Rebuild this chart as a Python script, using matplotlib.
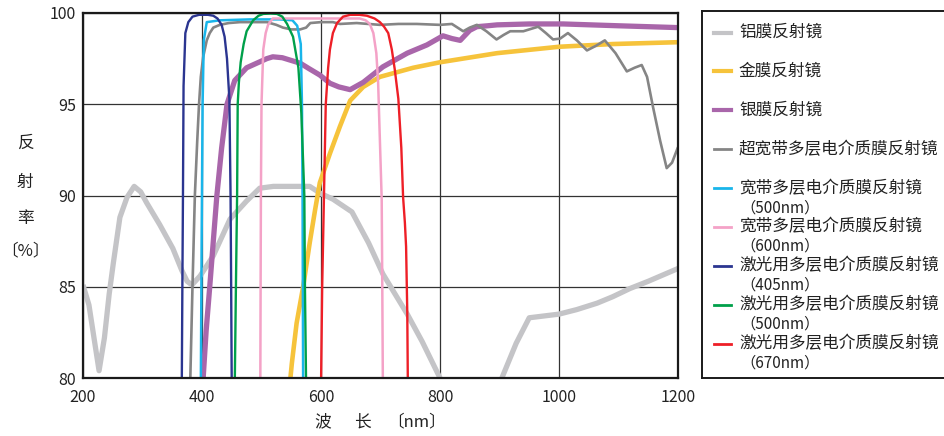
import matplotlib
matplotlib.use("Agg")
import matplotlib.pyplot as plt
from matplotlib.lines import Line2D

plt.rcParams["font.family"] = ["Noto Sans CJK SC", "DejaVu Sans"]

W, H = 945, 436

# ---- data (wavelength nm, reflectance %) ----
al_x = [200, 210, 218, 227, 236, 244, 251, 262, 274, 286, 297, 307, 329, 351, 366, 375, 383,
        397, 419, 447, 475, 497, 520, 550, 581, 600, 620, 652, 680, 704, 745, 770, 800, 830,
        870, 904, 928, 950, 975, 1000, 1030, 1064, 1090, 1119, 1150, 1175, 1200]
al_y = [85.1, 84.0, 82.3, 80.4, 82.2, 84.6, 86.3, 88.8, 89.9, 90.5, 90.2, 89.6, 88.4, 87.1,
        85.9, 85.3, 85.1, 85.6, 86.7, 88.7, 89.7, 90.4, 90.5, 90.5, 90.5, 90.1, 89.8, 89.1,
        87.4, 85.7, 83.5, 82.0, 80.0, 78.5, 78.2, 80.0, 81.9, 83.3, 83.4, 83.5, 83.75, 84.1,
        84.45, 84.9, 85.3, 85.65, 86.0]

au_x = [548, 551, 559, 570, 581, 590, 598, 615, 632, 649, 671, 699, 755, 800, 896, 1000, 1091, 1200]
au_y = [79.8, 80.8, 83.0, 85.0, 87.4, 89.2, 90.7, 92.3, 93.8, 95.2, 95.95, 96.5, 97.0, 97.3,
        97.8, 98.15, 98.3, 98.4]

ag_x = [401, 407, 413, 419, 425, 433, 442, 455, 475, 509, 519, 535, 550, 565, 580, 598, 615,
        630, 649, 671, 704, 745, 778, 805, 820, 834, 850, 862, 880, 896, 950, 1007, 1100, 1200]
ag_y = [79.5, 82.6, 85.0, 87.5, 90.0, 92.6, 95.0, 96.3, 97.0, 97.5, 97.6, 97.55, 97.4, 97.25,
        96.95, 96.6, 96.15, 95.95, 95.8, 96.2, 97.05, 97.8, 98.25, 98.75, 98.6, 98.5, 99.05,
        99.25, 99.3, 99.35, 99.4, 99.4, 99.3, 99.2]

uwb_x = [380, 384, 388, 392, 395, 398, 402, 408, 413, 419, 430, 445, 464, 490, 509, 525, 536,
         550, 565, 575, 582, 600, 620, 632, 660, 699, 730, 761, 800, 820, 839, 850, 862, 878,
         895, 907, 918, 940, 965, 978, 990, 1002, 1015, 1030, 1047, 1062, 1077, 1095, 1114,
         1127, 1139, 1148, 1158, 1170, 1181, 1190, 1200]
uwb_y = [79.5, 85.0, 90.0, 93.0, 95.0, 96.5, 97.6, 98.5, 98.9, 99.2, 99.35, 99.45, 99.5, 99.5,
         99.5, 99.35, 99.2, 99.1, 99.1, 99.2, 99.45, 99.5, 99.5, 99.4, 99.45, 99.35, 99.4, 99.4,
         99.35, 99.4, 99.0, 99.2, 99.35, 99.0, 98.55, 98.8, 99.0, 99.0, 99.25, 98.9, 98.55,
         98.6, 98.9, 98.5, 97.95, 98.2, 98.5, 97.8, 96.8, 97.0, 97.15, 96.5, 94.85, 93.0,
         91.5, 91.8, 92.65]

bb500_x = [398, 399.5, 401, 403, 408, 430, 480, 530, 552, 560, 566, 568, 569, 570]
bb500_y = [79.5, 88.0, 95.0, 98.5, 99.5, 99.6, 99.65, 99.65, 99.6, 99.3, 98.3, 95.0, 90.0, 79.5]

bb600_x = [498, 498.5, 499, 500, 503, 507, 511, 519, 540, 600, 650, 665, 675, 682, 688, 693,
           696, 699, 702, 703, 704]
bb600_y = [79.5, 85.0, 90.0, 95.0, 98.0, 98.9, 99.35, 99.7, 99.7, 99.7, 99.7, 99.7, 99.6,
           99.4, 98.9, 97.8, 96.2, 93.0, 89.8, 85.0, 79.5]

ls405_x = [366, 367, 368, 369, 372, 377, 384, 395, 410, 419, 426, 433, 438, 442, 446, 448, 449, 450]
ls405_y = [79.5, 85.0, 90.0, 96.0, 98.9, 99.5, 99.8, 99.9, 99.9, 99.85, 99.7, 99.35, 98.7,
           97.5, 95.3, 90.0, 85.0, 79.5]

ls500_x = [455, 457, 459, 460, 462, 465, 470, 475, 486, 495, 503, 515, 526, 535, 543, 553, 562,
           567, 570, 572, 573, 575]
ls500_y = [79.5, 85.0, 90.0, 95.0, 96.2, 97.3, 98.3, 99.0, 99.6, 99.85, 99.95, 99.97, 99.95,
           99.8, 99.4, 98.7, 97.0, 94.5, 91.8, 90.0, 85.0, 79.5]

ls670_x = [600, 602, 605, 608, 612, 615, 620, 627, 637, 649, 665, 677, 690, 699, 706, 713, 719,
           724, 730, 735, 738, 741, 743, 745, 746]
ls670_y = [79.5, 85.0, 90.0, 95.0, 97.0, 98.0, 98.9, 99.45, 99.8, 99.9, 99.9, 99.85, 99.7,
           99.5, 99.25, 98.9, 98.0, 96.9, 95.3, 92.6, 89.9, 88.5, 87.2, 83.6, 79.5]

x_ticks = [200, 400, 600, 800, 1000, 1200]
y_ticks = [80, 85, 90, 95, 100]

labels = ["铝膜反射镜", "金膜反射镜", "银膜反射镜", "超宽带多层电介质膜反射镜",
          "宽带多层电介质膜反射镜", "宽带多层电介质膜反射镜",
          "激光用多层电介质膜反射镜", "激光用多层电介质膜反射镜", "激光用多层电介质膜反射镜"]
sublabels = [None, None, None, None, "（500nm）", "（600nm）", "（405nm）", "（500nm）", "（670nm）"]

series = [
    (al_x, al_y, "#c4c4c7", 3.8),
    (au_x, au_y, "#f6c33b", 3.3),
    (ag_x, ag_y, "#a966aa", 3.8),
    (uwb_x, uwb_y, "#858585", 1.9),
    (bb500_x, bb500_y, "#19b5ea", 1.8),
    (bb600_x, bb600_y, "#f4a2c7", 1.8),
    (ls405_x, ls405_y, "#2b3590", 1.7),
    (ls500_x, ls500_y, "#00a04a", 1.7),
    (ls670_x, ls670_y, "#ee1f27", 1.7),
]

fig = plt.figure(figsize=(W / 100, H / 100), dpi=100)
ax = fig.add_axes([83 / W, 1 - 378 / H, (678 - 83) / W, (378 - 13) / H])

for xs, ys, color, lw in series:
    ax.plot(xs, ys, color=color, linewidth=lw, solid_capstyle="butt")

ax.set_xlim(200, 1200)
ax.set_ylim(80, 100)
ax.set_xticks(x_ticks)
ax.set_yticks(y_ticks)
ax.grid(color="#333333", linewidth=0.9)
ax.set_axisbelow(True)
ax.tick_params(length=0, labelsize=11.5, colors="#222222")
ax.tick_params(axis="x", pad=8)
ax.tick_params(axis="y", pad=5)
for sp in ax.spines.values():
    sp.set_linewidth(1.6)
    sp.set_color("#1a1a1a")

# axis titles
for ch, y in zip(["反", "射", "率", "〔%〕"], [143, 182, 218, 251]):
    fig.text(25 / W, 1 - y / H, ch, ha="center", va="center", fontsize=12, color="#222222")
for ch, x in zip(["波", "长", "〔nm〕"], [323, 362, 417]):
    fig.text(x / W, 1 - 422 / H, ch, ha="center", va="center", fontsize=12, color="#222222")

# legend panel
lax = fig.add_axes([702 / W, 1 - 378 / H, (980 - 702) / W, (378 - 11) / H])
lax.set_xlim(702, 980)
lax.set_ylim(378, 11)
lax.set_xticks([])
lax.set_yticks([])
for sp in lax.spines.values():
    sp.set_linewidth(1.4)
    sp.set_color("#1a1a1a")

for i, (label, sub, (xs, ys, color, lw)) in enumerate(zip(labels, sublabels, series)):
    y = 32.5 + 38.9 * i
    lax.add_line(Line2D([714, 731], [y, y], color=color, linewidth=3.0 if lw > 3 else 2.0))
    lax.text(739, y, label, ha="left", va="center", fontsize=12, color="#222222")
    if sub:
        lax.text(740, y + 19.5, sub, ha="left", va="center", fontsize=11, color="#222222")

fig.savefig("out.png", dpi=100)
